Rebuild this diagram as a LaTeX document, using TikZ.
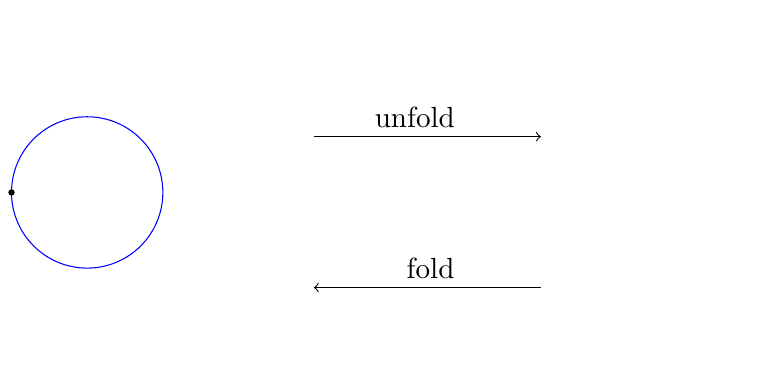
\documentclass[tikz,border=0pt]{standalone}
\begin{document}
\begin{tikzpicture}[
  lbl/.style={inner sep=0pt, anchor=base, font=\fontsize{10.95}{13}\selectfont},
  arr/.style={->, line width=0.4pt}
]
\useasboundingbox (0,0) rectangle (10.03,-5.086);
\coordinate (c) at (1.152,-2.543);
\draw[blue, line width=0.4pt] (c) circle (1cm);
\coordinate (p) at (0.152,-2.543);
\fill (p) circle (1.2pt);
\coordinate (u1) at (4.148,-1.806);
\coordinate (u2) at (7.147,-1.806);
\coordinate (f1) at (7.147,-3.80);
\coordinate (f2) at (4.148,-3.80);
\draw[arr] (u1) -- (u2);
\draw[arr] (f1) -- (f2);
\node[lbl] (ul) at (5.482,-1.682) {unfold};
\node[lbl] (fl) at (5.690,-3.676) {fold};
\end{tikzpicture}
\end{document}
